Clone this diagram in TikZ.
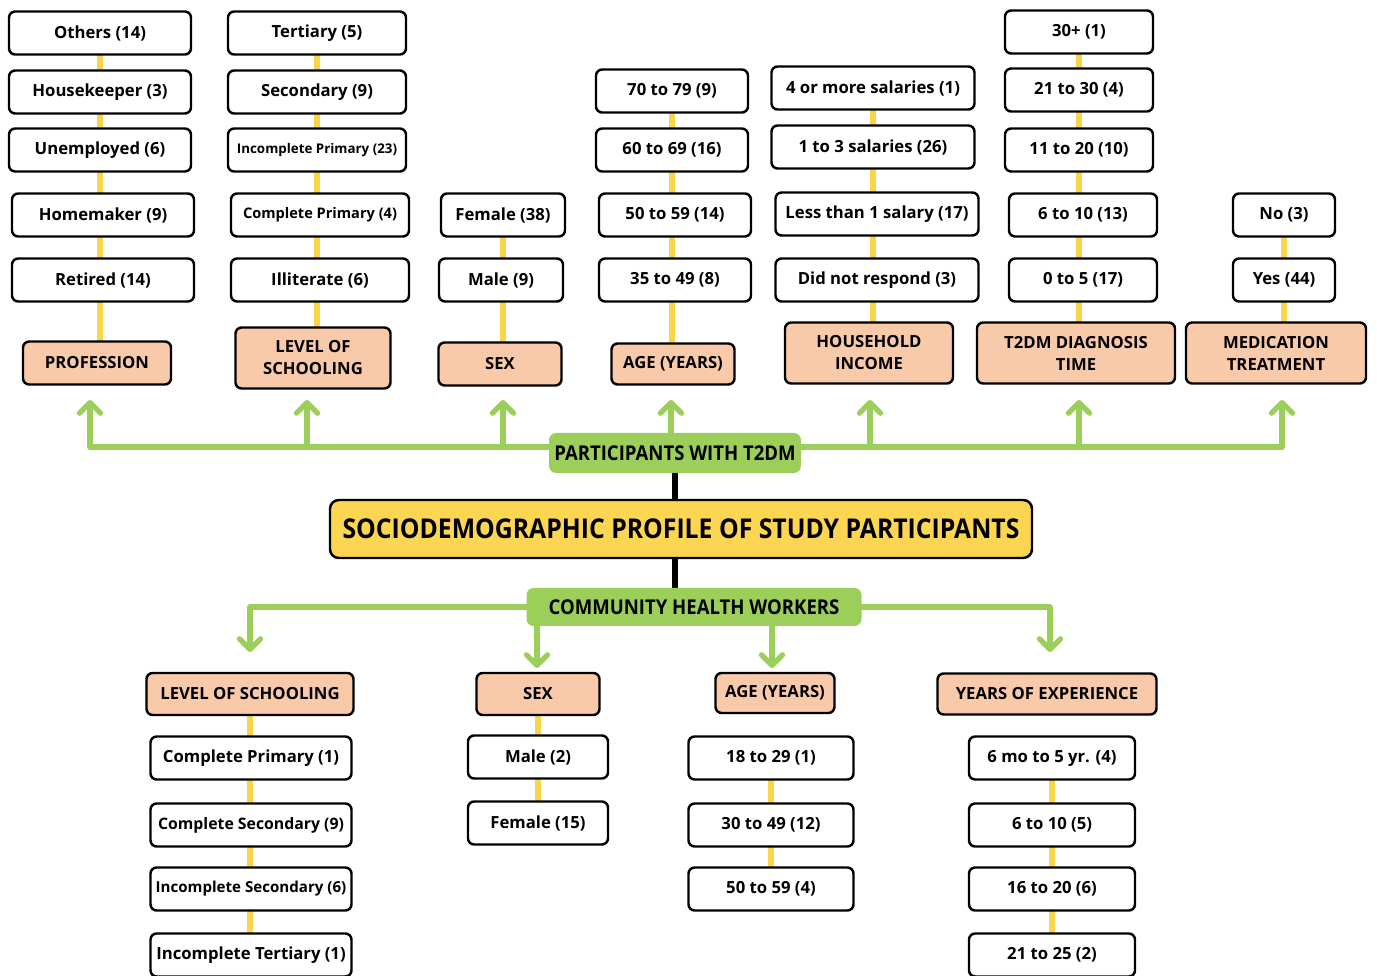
\documentclass[tikz,border=0pt]{standalone}
\usepackage{fontspec}
\setmainfont{Open Sans}
\newfontfamily\condfont[FakeStretch=0.91]{Open Sans}
\usetikzlibrary{arrows.meta,backgrounds}
\definecolor{peach}{HTML}{F9CAA9}
\definecolor{leaf}{HTML}{9BCF5A}
\definecolor{sun}{HTML}{F9D649}
\definecolor{titlegold}{HTML}{FCD553}
\newdimen\px \px=0.02cm
\begin{document}
\begin{tikzpicture}[x=\px, y=-\px,
    box/.style={draw, line width=1.4pt, rounded corners=3.5pt, fill=white, inner sep=0pt,
      minimum height=43\px, font=\fontsize{9.5}{11}\selectfont\bfseries},
    cat/.style={box, fill=peach, align=center, font=\fontsize{9.5}{12.5}\selectfont\bfseries},
    group/.style={fill=leaf, rounded corners=4pt, inner sep=0pt, font=\condfont\fontsize{11.6}{12}\selectfont\bfseries},
    link/.style={sun, line width=3pt},
    trunk/.style={black, line width=3pt},
    branch/.style={leaf, line width=3pt, line cap=round, line join=round,
      -{Straight Barb[length=6pt,width=12pt,round]}},
  ]
    \useasboundingbox (0,0) rectangle (1377,976);

    % centre
    \node[group, minimum width=252\px, minimum height=40\px] (ptw) at (675,453) {PARTICIPANTS WITH T2DM};
    \node[draw, line width=1.4pt, rounded corners=5pt, fill=titlegold, minimum width=702\px, minimum height=58\px,
      font=\condfont\fontsize{15.5}{17}\selectfont\bfseries] (title) at (681,529) {SOCIODEMOGRAPHIC PROFILE OF STUDY PARTICIPANTS};
    \node[group, minimum width=335\px, minimum height=38\px] (chw) at (694,607) {COMMUNITY HEALTH WORKERS};

    % participants: profession
    \node[box, minimum width=182\px] (oth) at (100,33) {Others (14)};
    \node[box, minimum width=182\px] (hkp) at (100,92) {Housekeeper (3)};
    \node[box, minimum width=182\px] (unm) at (100,150) {Unemployed (6)};
    \node[box, minimum width=182\px] (hom) at (103,215) {Homemaker (9)};
    \node[box, minimum width=182\px] (ret) at (103,280) {Retired (14)};
    \node[cat, minimum width=148\px] (prof) at (97,363) {PROFESSION};

    % participants: schooling
    \node[box, minimum width=178\px] (ter) at (317,33) {Tertiary (5)};
    \node[box, minimum width=178\px] (sec) at (317,92) {Secondary (9)};
    \node[box, minimum width=178\px, font=\fontsize{7.6}{9}\selectfont\bfseries] (ipr) at (317,150) {Incomplete Primary (23)};
    \node[box, minimum width=178\px, font=\fontsize{8.3}{9}\selectfont\bfseries] (cpr) at (320,215) {Complete Primary (4)};
    \node[box, minimum width=178\px] (ill) at (320,280) {Illiterate (6)};
    \node[cat, minimum width=155\px, minimum height=61\px] (los) at (313,358) {LEVEL OF\\SCHOOLING};

    % participants: sex
    \node[box, minimum width=124\px] (fem) at (503,215) {Female (38)};
    \node[box, minimum width=124\px] (mal) at (501,280) {Male (9)};
    \node[cat, minimum width=123\px] (sex) at (500,364) {SEX};

    % participants: age
    \node[box, minimum width=152\px] (a70) at (672,91) {70 to 79 (9)};
    \node[box, minimum width=152\px] (a60) at (672,150) {60 to 69 (16)};
    \node[box, minimum width=152\px] (a50) at (675,215) {50 to 59 (14)};
    \node[box, minimum width=152\px] (a35) at (675,280) {35 to 49 (8)};
    \node[cat, minimum width=123\px, minimum height=41\px] (age) at (673,364) {AGE (YEARS)};

    % participants: income
    \node[box, minimum width=203\px] (i4) at (873,88) {4 or more salaries (1)};
    \node[box, minimum width=203\px] (i13) at (873,147) {1 to 3 salaries (26)};
    \node[box, minimum width=203\px] (il1) at (877,214) {Less than 1 salary (17)};
    \node[box, minimum width=203\px] (idr) at (877,280) {Did not respond (3)};
    \node[cat, minimum width=168\px, minimum height=61\px] (inc) at (869,353) {HOUSEHOLD\\INCOME};

    % participants: diagnosis time
    \node[box, minimum width=148\px] (t30) at (1079,32) {30+ (1)};
    \node[box, minimum width=148\px] (t21) at (1079,90) {21 to 30 (4)};
    \node[box, minimum width=148\px] (t11) at (1079,150) {11 to 20 (10)};
    \node[box, minimum width=148\px] (t6) at (1083,215) {6 to 10 (13)};
    \node[box, minimum width=148\px] (t0) at (1083,280) {0 to 5 (17)};
    \node[cat, minimum width=198\px, minimum height=61\px] (tdm) at (1076,353) {T2DM DIAGNOSIS\\TIME};

    % participants: medication
    \node[box, minimum width=102\px] (mno) at (1284,215) {No (3)};
    \node[box, minimum width=102\px] (myes) at (1284,280) {Yes (44)};
    \node[cat, minimum width=180\px, minimum height=61\px] (med) at (1276,353) {MEDICATION\\TREATMENT};

    % health workers: schooling
    \node[cat, minimum width=207\px, minimum height=42\px] (blos) at (250,694) {LEVEL OF SCHOOLING};
    \node[box, minimum width=201\px] (bcp) at (251,758) {Complete Primary (1)};
    \node[box, minimum width=201\px, font=\fontsize{9}{10}\selectfont\bfseries] (bcs) at (251,825) {Complete Secondary (9)};
    \node[box, minimum width=201\px, font=\fontsize{8.6}{10}\selectfont\bfseries] (bis) at (251,889) {Incomplete Secondary (6)};
    \node[box, minimum width=201\px] (bit) at (251,955) {Incomplete Tertiary (1)};

    % health workers: sex
    \node[cat, minimum width=123\px, minimum height=42\px] (bsex) at (538,694) {SEX};
    \node[box, minimum width=140\px] (bm) at (538,757) {Male (2)};
    \node[box, minimum width=140\px] (bf) at (538,823) {Female (15)};

    % health workers: age
    \node[cat, minimum width=119\px, minimum height=40\px] (bage) at (775,693) {AGE (YEARS)};
    \node[box, minimum width=165\px] (b18) at (771,758) {18 to 29 (1)};
    \node[box, minimum width=165\px] (b30) at (771,825) {30 to 49 (12)};
    \node[box, minimum width=165\px] (b50) at (771,889) {50 to 59 (4)};

    % health workers: experience
    \node[cat, minimum width=219\px, minimum height=41\px] (byoe) at (1047,694) {YEARS OF EXPERIENCE};
    \node[box, minimum width=166\px] (bx1) at (1052,758) {6 mo to 5 yr. (4)};
    \node[box, minimum width=166\px] (bx2) at (1052,825) {6 to 10 (5)};
    \node[box, minimum width=166\px] (bx3) at (1052,889) {16 to 20 (6)};
    \node[box, minimum width=166\px] (bx4) at (1052,955) {21 to 25 (2)};

    % arrow ends
    \coordinate (bar) at (675,447);
    \coordinate (up1) at (90,400);
    \coordinate (up2) at (307,400);
    \coordinate (up3) at (503,400);
    \coordinate (up4) at (671,400);
    \coordinate (up5) at (870,400);
    \coordinate (up6) at (1079,400);
    \coordinate (up7) at (1282,400);
    \coordinate (cbar) at (694,607);
    \coordinate (dn1) at (250,652);
    \coordinate (dn2) at (537,668);
    \coordinate (dn3) at (772,668);
    \coordinate (dn4) at (1050,652);

    \begin{scope}[on background layer]
      \fill[white] (0,0) rectangle (1377,976);
      \draw[link] (oth.center) -- (oth.center |- prof.center);
      \draw[link] (ter.center) -- (ter.center |- los.center);
      \draw[link] (fem.center) -- (fem.center |- sex.center);
      \draw[link] (a70.center) -- (a70.center |- age.center);
      \draw[link] (i4.center) -- (i4.center |- inc.center);
      \draw[link] (t30.center) -- (t30.center |- tdm.center);
      \draw[link] (mno.center) -- (mno.center |- med.center);
      \draw[link] (blos.center) -- (blos.center |- bit.center);
      \draw[link] (bsex.center) -- (bsex.center |- bf.center);
      \draw[link] (b18.center) -- (b18.center |- b50.center);
      \draw[link] (bx1.center) -- (bx1.center |- bx4.center);
      \draw[trunk] (ptw.center) -- (ptw.center |- chw.center);
      \foreach \t in {up1,up2,up3,up4,up5,up6,up7}
        \draw[branch] (bar) -| (\t);
      \foreach \t in {dn1,dn2,dn3,dn4}
        \draw[branch] (cbar) -| (\t);
    \end{scope}
  \end{tikzpicture}
\end{document}
